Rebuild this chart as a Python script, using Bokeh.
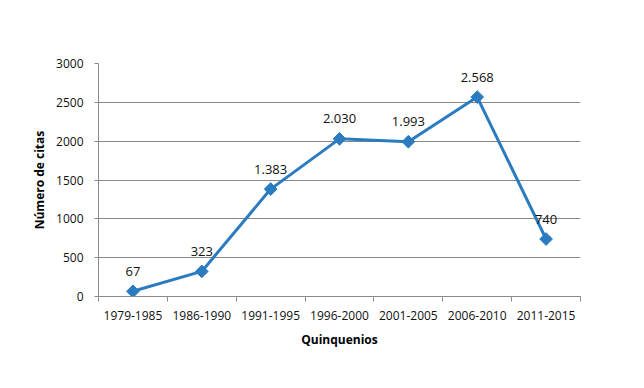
from bokeh.plotting import figure
from bokeh.models import ColumnDataSource, FixedTicker, Range1d
from bokeh.embed import file_html
from bokeh.resources import INLINE
from bokeh.core.properties import value
import numpy as np

categories = ["1979-1985", "1986-1990", "1991-1995", "1996-2000", "2001-2005", "2006-2010", "2011-2015"]
citas = [67, 323, 1383, 2030, 1993, 2568, 740]
etiquetas = ["67", "323", "1.383", "2.030", "1.993", "2.568", "740"]
y_ticks = [0, 500, 1000, 1500, 2000, 2500, 3000]

FONT = "Open Sans"
BLUE = "#2a7bbf"
GRAY = "#898989"

xs = np.arange(len(categories)) + 0.5
src = ColumnDataSource(dict(x=xs, y=citas, lab=etiquetas))

p = figure(width=636, height=380, output_backend="svg", toolbar_location=None,
           x_range=Range1d(0, len(categories)), y_range=Range1d(0, 3000),
           min_border_left=98, min_border_right=56, min_border_top=63, min_border_bottom=84)
p.outline_line_color = None
p.background_fill_color = "white"
p.border_fill_color = "white"

p.line("x", "y", source=src, line_color=BLUE, line_width=3)
p.scatter("x", "y", source=src, marker="square", angle=np.pi / 4, size=9,
          fill_color=BLUE, line_color=BLUE, line_width=1)
p.text("x", "y", text="lab", source=src, text_align="center", text_baseline="middle",
       y_offset=-20, text_font=value(FONT), text_font_size="13px", text_color="#111111")

# x axis
p.xaxis.ticker = FixedTicker(ticks=list(xs), minor_ticks=list(range(len(categories) + 1)))
p.xaxis.major_label_overrides = {float(x): c for x, c in zip(xs, categories)}
p.xaxis.major_tick_out = 0
p.xaxis.major_tick_in = 0
p.xaxis.minor_tick_out = 5
p.xaxis.minor_tick_in = 0
p.xaxis.minor_tick_line_color = GRAY
p.xaxis.axis_line_color = GRAY
p.xaxis.major_label_standoff = 9
p.xaxis.axis_label = "Quinquenios"
p.xaxis.axis_label_standoff = 8
p.xgrid.grid_line_color = None

# y axis
p.yaxis.ticker = FixedTicker(ticks=y_ticks)
p.yaxis.major_tick_out = 4
p.yaxis.major_tick_in = 0
p.yaxis.minor_tick_line_color = None
p.yaxis.major_tick_line_color = GRAY
p.yaxis.axis_line_color = GRAY
p.yaxis.major_label_standoff = 11
p.yaxis.axis_label = "Número de citas"
p.yaxis.axis_label_standoff = 5
p.ygrid.grid_line_color = GRAY
p.ygrid.grid_line_width = 1

for ax in (p.xaxis, p.yaxis):
    ax.major_label_text_font = FONT
    ax.major_label_text_font_size = "12px"
    ax.major_label_text_color = "#111111"
    ax.axis_label_text_font = FONT
    ax.axis_label_text_font_size = "12px"
    ax.axis_label_text_font_style = "bold"
    ax.axis_label_text_color = "#000000"

open("out.html", "w").write(file_html(p, INLINE))
